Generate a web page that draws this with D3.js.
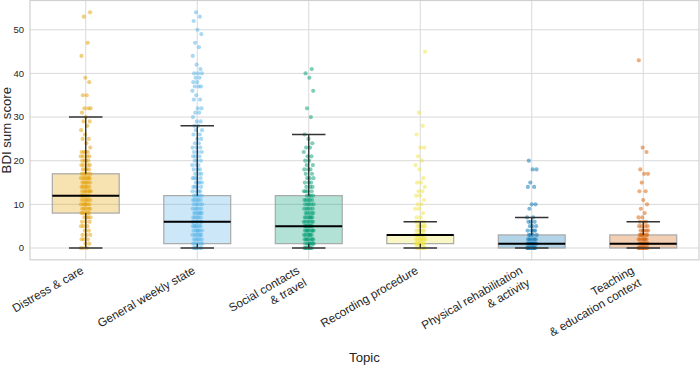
<!DOCTYPE html>
<html>
<head>
<meta charset="utf-8">
<script src="https://cdn.jsdelivr.net/npm/d3@7"></script>
<style>
  body { margin: 0; background: #fff; }
  text { font-family: "Liberation Sans", Arial, sans-serif; fill: #262626; }
</style>
</head>
<body>
<script>
// Topics on the x axis (\n = line break in the tick label)
var topics = ["Distress & care", "General weekly state", "Social contacts\n& travel",
              "Recording procedure", "Physical rehabilitation\n& activity", "Teaching\n& education context"];
var colors = ["#E69F00", "#56B4E9", "#009E73", "#F0E442", "#0072B2", "#D55E00"];

// Box statistics
var q1 = [8, 1, 1, 1, 0, 0];
var medians = [12, 6, 5, 3, 1, 1];
var q3 = [17, 12, 12, 3, 3, 3];
var whiskerLow = [0, 0, 0, 0, 0, 0];
var whiskerHigh = [30, 28, 26, 6, 7, 6];

// Number of participants per BDI score (index = score), one array per topic
var distressCounts = [3,2,3,3,2,3,3,4,5,5, 6,5,6,6,5,5,6,5,4,4, 4,4,4,1,1,2,1,1,1,2, 1,1,3,0,0,2,0,0,1,1, 0,0,0,0,1,0,0,1,0,0, 0,0,0,1,1];
var weeklyCounts   = [6,6,5,6,6,6,6,5,6,5, 5,5,5,4,4,4,4,3,3,3, 3,3,3,3,2,2,2,2,2,2, 1,2,2,0,2,1,1,3,2,2, 3,1,1,0,1,0,1,1,0,1, 1,0,1,1,1];
var socialCounts   = [7,7,7,6,7,7,6,6,5,5, 5,5,4,4,3,3,3,2,3,2, 2,2,1,2,1,1,1,0,0,0, 1,0,1,0,0,0,1,0,0,1, 1,1];
var recordingCounts = [6,10,8,10,5,5,4,2,1,2, 2,1,2,2,1,2,1,0,1,1, 1,1,0,2,0,0,1,0,1,0, 0,1,0,0,0,0,0,0,0,0, 0,0,0,0,0,1];
var physicalCounts = [10,8,5,4,4,3,3,2,0,1, 2,0,0,0,2,1,0,0,2,0, 1];
var teachingCounts = [10,8,6,6,5,4,3,2,1,1, 1,1,0,2,0,1,0,2,1,0, 0,0,1,1,0,0,0,0,0,0, 0,0,0,0,0,0,0,0,0,0, 0,0,0,1];

var yTicks = [0, 10, 20, 30, 40, 50];

var allCounts = [distressCounts, weeklyCounts, socialCounts, recordingCounts, physicalCounts, teachingCounts];

var width = 700, height = 365;
var margin = {top: 0.5, right: 1, bottom: 105.2, left: 30};

var svg = d3.select(document.body).append("svg")
  .attr("width", width).attr("height", height);

var x = d3.scaleBand().domain(topics).range([margin.left, width - margin.right]);
var y = d3.scaleLinear().domain([-2.7, 56.7]).range([height - margin.bottom, margin.top]);

var plotBottom = height - margin.bottom;
var bw = x.bandwidth();

// grid lines
svg.append("g").selectAll("line.hgrid")
  .data(yTicks).enter().append("line")
  .attr("x1", margin.left).attr("x2", width - margin.right)
  .attr("y1", function(d) { return y(d); }).attr("y2", function(d) { return y(d); })
  .attr("stroke", "#d9d9d9").attr("stroke-width", 1);

svg.append("g").selectAll("line.vgrid")
  .data(topics).enter().append("line")
  .attr("x1", function(d) { return x(d) + bw / 2; }).attr("x2", function(d) { return x(d) + bw / 2; })
  .attr("y1", margin.top).attr("y2", plotBottom)
  .attr("stroke", "#d9d9d9").attr("stroke-width", 1);

// frame
svg.append("rect")
  .attr("x", margin.left).attr("y", margin.top)
  .attr("width", width - margin.right - margin.left)
  .attr("height", plotBottom - margin.top)
  .attr("fill", "none").attr("stroke", "#d0d0d0").attr("stroke-width", 1.2);

// boxes
var boxW = bw * 0.6, capW = bw * 0.3;
svg.append("g").selectAll("rect")
  .data(topics).enter().append("rect")
  .attr("x", function(d) { return x(d) + bw / 2 - boxW / 2; })
  .attr("y", function(d, i) { return y(q3[i]); })
  .attr("width", boxW)
  .attr("height", function(d, i) { return y(q1[i]) - y(q3[i]); })
  .attr("fill", function(d, i) { return colors[i]; })
  .attr("fill-opacity", 0.3)
  .attr("stroke", "#a8a8a8").attr("stroke-width", 1.2);

// strip points with a small fixed jitter
var points = [];
allCounts.forEach(function(counts, ti) {
  var k = 0;
  counts.forEach(function(n, score) {
    for (var j = 0; j < n; j++) {
      var f = ((k * 0.618034 + ti * 0.29) % 1) - 0.5;
      points.push({topic: topics[ti], ti: ti, score: score, jit: f * 2 * bw * 0.045});
      k++;
    }
  });
});

svg.append("g").selectAll("circle")
  .data(points).enter().append("circle")
  .attr("cx", function(d) { return x(d.topic) + bw / 2 + d.jit; })
  .attr("cy", function(d) { return y(d.score); })
  .attr("r", 2.1)
  .attr("fill", function(d) { return colors[d.ti]; })
  .attr("fill-opacity", 0.5);

// whiskers, caps and medians on top
var wg = svg.append("g");
topics.forEach(function(t, i) {
  var cx = x(t) + bw / 2;
  wg.append("line").attr("x1", cx).attr("x2", cx)
    .attr("y1", y(q3[i])).attr("y2", y(whiskerHigh[i]))
    .attr("stroke", "#1a1a1a").attr("stroke-width", 1.2);
  wg.append("line").attr("x1", cx).attr("x2", cx)
    .attr("y1", y(q1[i])).attr("y2", y(whiskerLow[i]))
    .attr("stroke", "#1a1a1a").attr("stroke-width", 1.2);
  [whiskerHigh[i], whiskerLow[i]].forEach(function(v) {
    wg.append("line").attr("x1", cx - capW / 2).attr("x2", cx + capW / 2)
      .attr("y1", y(v)).attr("y2", y(v))
      .attr("stroke", "#333").attr("stroke-width", 1.5);
  });
  wg.append("line").attr("x1", cx - boxW / 2).attr("x2", cx + boxW / 2)
    .attr("y1", y(medians[i])).attr("y2", y(medians[i]))
    .attr("stroke", "#000").attr("stroke-width", 2);
});

// y tick labels
svg.append("g").selectAll("text")
  .data(yTicks).enter().append("text")
  .attr("x", 24).attr("y", function(d) { return y(d); })
  .attr("dy", "0.35em")
  .attr("text-anchor", "end")
  .style("font-size", "9.5px")
  .text(function(d) { return d; });

// x tick labels, rotated 30 degrees and right aligned
var fs = 11.8, lh = fs * 1.2;
topics.forEach(function(t, i) {
  var lines = t.split("\n");
  var cx = x(t) + bw / 2;
  var ox = cx - 0.5 * (0.21 * fs + (lines.length - 1) * lh);
  var oy = plotBottom + 3.7 + 0.866 * 0.9 * fs;
  var txt = svg.append("text")
    .attr("transform", "translate(" + ox + "," + oy + ") rotate(-30)")
    .attr("text-anchor", "end")
    .style("font-size", fs + "px");
  lines.forEach(function(l, li) {
    txt.append("tspan").attr("x", 0).attr("y", li * lh).text(l);
  });
});

// axis titles
svg.append("text")
  .attr("transform", "translate(10.5," + (margin.top + plotBottom) / 2 + ") rotate(-90)")
  .attr("text-anchor", "middle")
  .style("font-size", "13.2px")
  .text("BDI sum score");

svg.append("text")
  .attr("x", (margin.left + width - margin.right) / 2).attr("y", 362)
  .attr("text-anchor", "middle")
  .style("font-size", "13.2px")
  .text("Topic");
</script>
</body>
</html>
